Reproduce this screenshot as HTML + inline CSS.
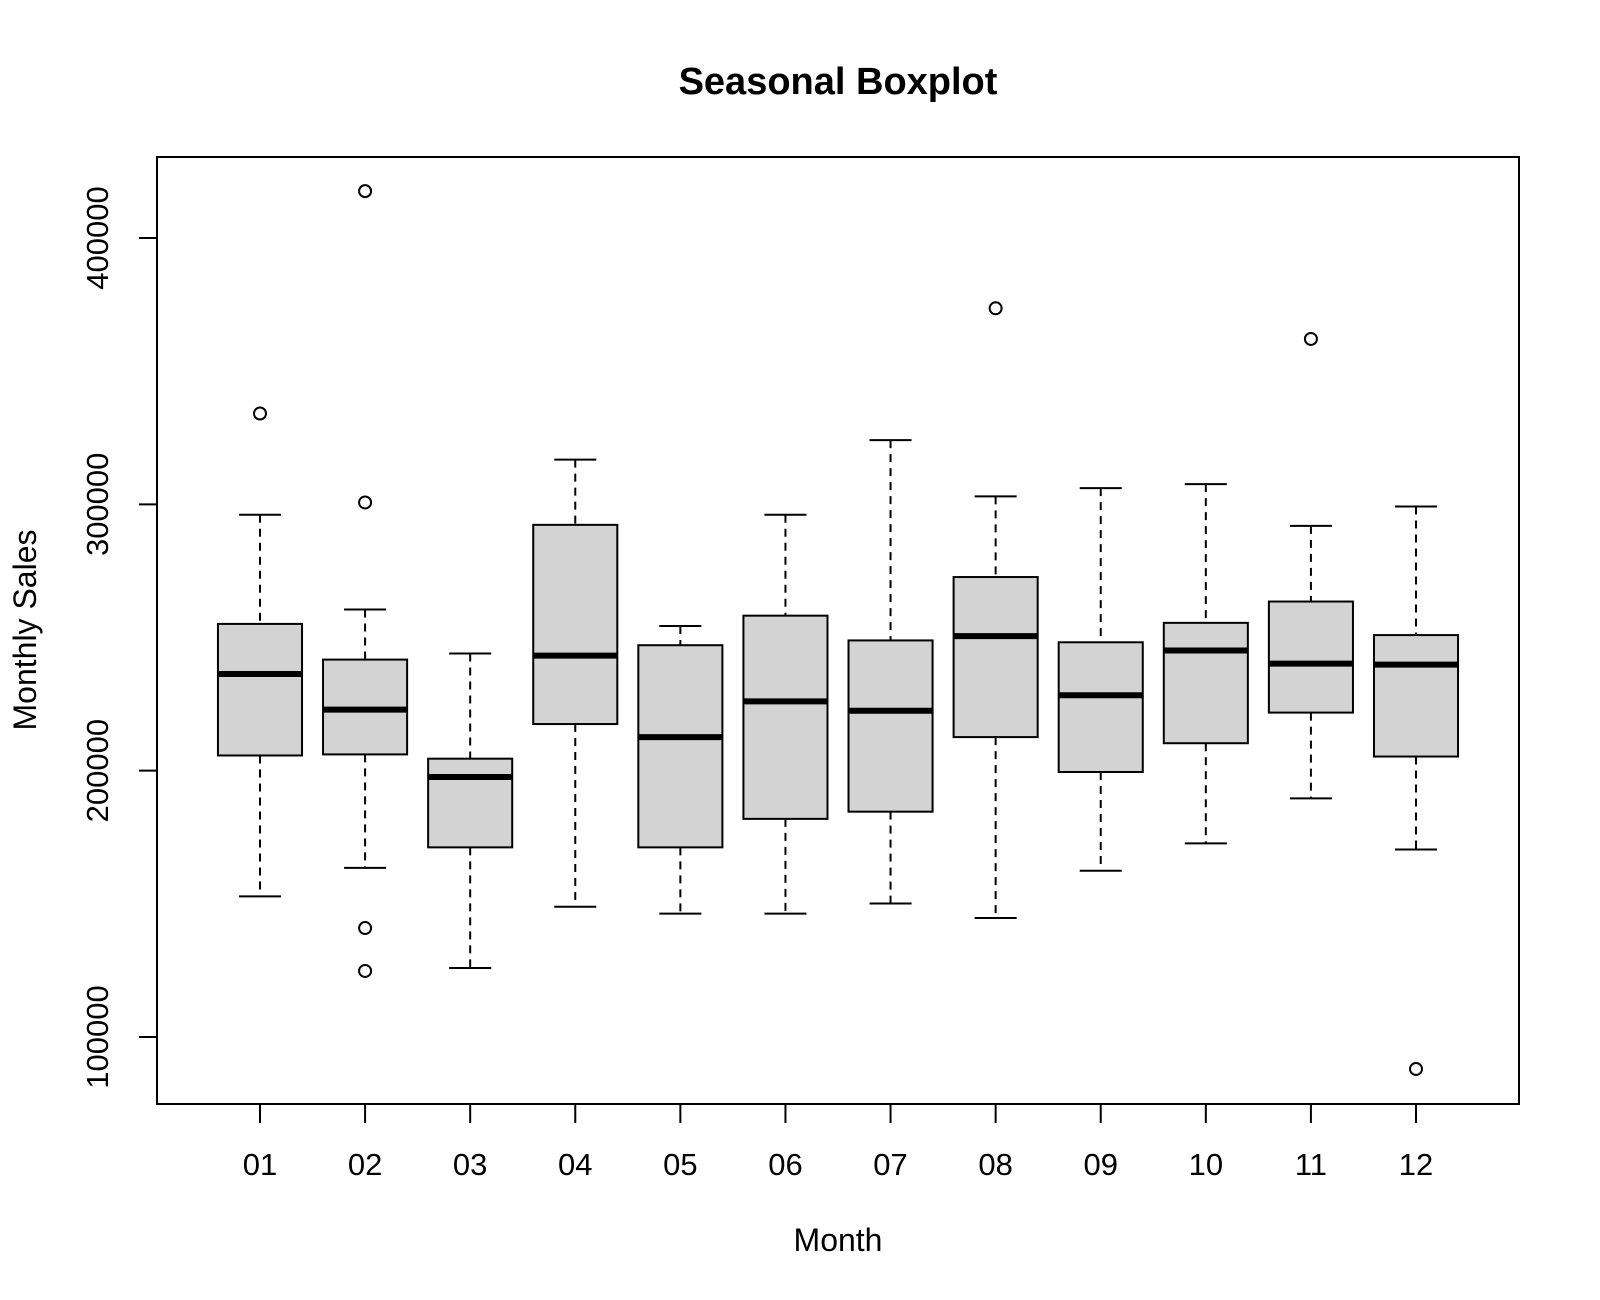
<!DOCTYPE html>
<html><head><meta charset="utf-8"><style>
html,body{margin:0;padding:0;background:#fff;}
svg{display:block;font-family:"Liberation Sans",Arial,sans-serif;}
</style></head><body>
<svg id="chart" width="1600" height="1300" viewBox="0 0 1600 1300" xmlns="http://www.w3.org/2000/svg">
<rect width="1600" height="1300" fill="#fff"/>
<text x="838" y="94" text-anchor="middle" font-size="38" font-weight="bold">Seasonal Boxplot</text>
<rect x="157" y="157" width="1362" height="947" fill="none" stroke="#000" stroke-width="2"/>
<text x="838" y="1251" text-anchor="middle" font-size="32">Month</text>
<text transform="translate(36,630) rotate(-90)" text-anchor="middle" font-size="32">Monthly Sales</text>
<g id="marks"></g>
</svg>
<script>
const months = ["01","02","03","04","05","06","07","08","09","10","11","12"];
const whiskerLow = [152800,163500,125900,148900,146300,146300,150100,144700,162400,172700,189600,170400];
const q1 = [205700,206100,171200,217500,171200,181900,184600,212600,199500,210300,221800,205300];
const medians = [236300,222900,197600,243200,212600,226000,222500,250500,228300,245100,240200,239800];
const q3 = [255100,241700,204500,292300,247100,258200,248900,272700,248200,255500,263500,250900];
const whiskerHigh = [296100,260500,244000,316800,254300,296100,324100,303000,306100,307600,291900,299200];
const outliers = [[334100],[417600,300700,140900,124800],[],[],[],[],[],[373600],[],[],[362100],[88000]];
const yTicks = [100000,200000,300000,400000];

const NS = "http://www.w3.org/2000/svg";
const g = document.getElementById("marks");
const X0 = 157, XW = 1362, Y400 = 238, PER = 266.33;
function xs(i){ return X0 + (i + 1 - 0.5 + 0.48) * (XW / 12.96); }
function ys(v){ return Y400 + (400000 - v) / 100000 * PER; }
const unit = XW / 12.96;
function mk(tag, attrs){ const e = document.createElementNS(NS, tag); for (const k in attrs) e.setAttribute(k, attrs[k]); g.appendChild(e); return e; }

yTicks.forEach(t => {
  const y = ys(t);
  const tk = mk("line", {x1:X0-18, x2:X0, y1:y, y2:y, stroke:"#000", "stroke-width":2});
  
  
  const lb = mk("text", {transform:`translate(108,${y}) rotate(-90)`, "text-anchor":"middle", "font-size":31});
  lb.textContent = String(t);
  
  
});

months.forEach((m, i) => {
  const cx = xs(i), hw = 0.4 * unit, sw = 0.2 * unit;
  const tk = mk("line", {x1:cx, x2:cx, y1:1104, y2:1123, stroke:"#000", "stroke-width":2});
  
  
  const lb = mk("text", {x:cx, y:1175, "text-anchor":"middle", "font-size":31});
  lb.textContent = m;
  
  
  const wu = mk("line", {x1:cx, x2:cx, y1:ys(whiskerHigh[i]), y2:ys(q3[i]), stroke:"#000", "stroke-width":2, "stroke-dasharray":"8,6"});
  
  
  const wl = mk("line", {x1:cx, x2:cx, y1:ys(q1[i]), y2:ys(whiskerLow[i]), stroke:"#000", "stroke-width":2, "stroke-dasharray":"8,6"});
  
  
  const su = mk("line", {x1:cx-sw, x2:cx+sw, y1:ys(whiskerHigh[i]), y2:ys(whiskerHigh[i]), stroke:"#000", "stroke-width":2});
  
  
  const sl = mk("line", {x1:cx-sw, x2:cx+sw, y1:ys(whiskerLow[i]), y2:ys(whiskerLow[i]), stroke:"#000", "stroke-width":2});
  
  
  const bx = mk("rect", {x:cx-hw, y:ys(q3[i]), width:2*hw, height:ys(q1[i])-ys(q3[i]), fill:"#d3d3d3", stroke:"#000", "stroke-width":2});
  
  
  const md = mk("line", {x1:cx-hw, x2:cx+hw, y1:ys(medians[i]), y2:ys(medians[i]), stroke:"#000", "stroke-width":6});
  
  
  outliers[i].forEach(v => {
    const c = mk("circle", {cx:cx, cy:ys(v), r:6, fill:"none", stroke:"#000", "stroke-width":2});
    
    
  });
});
</script>
</body></html>
